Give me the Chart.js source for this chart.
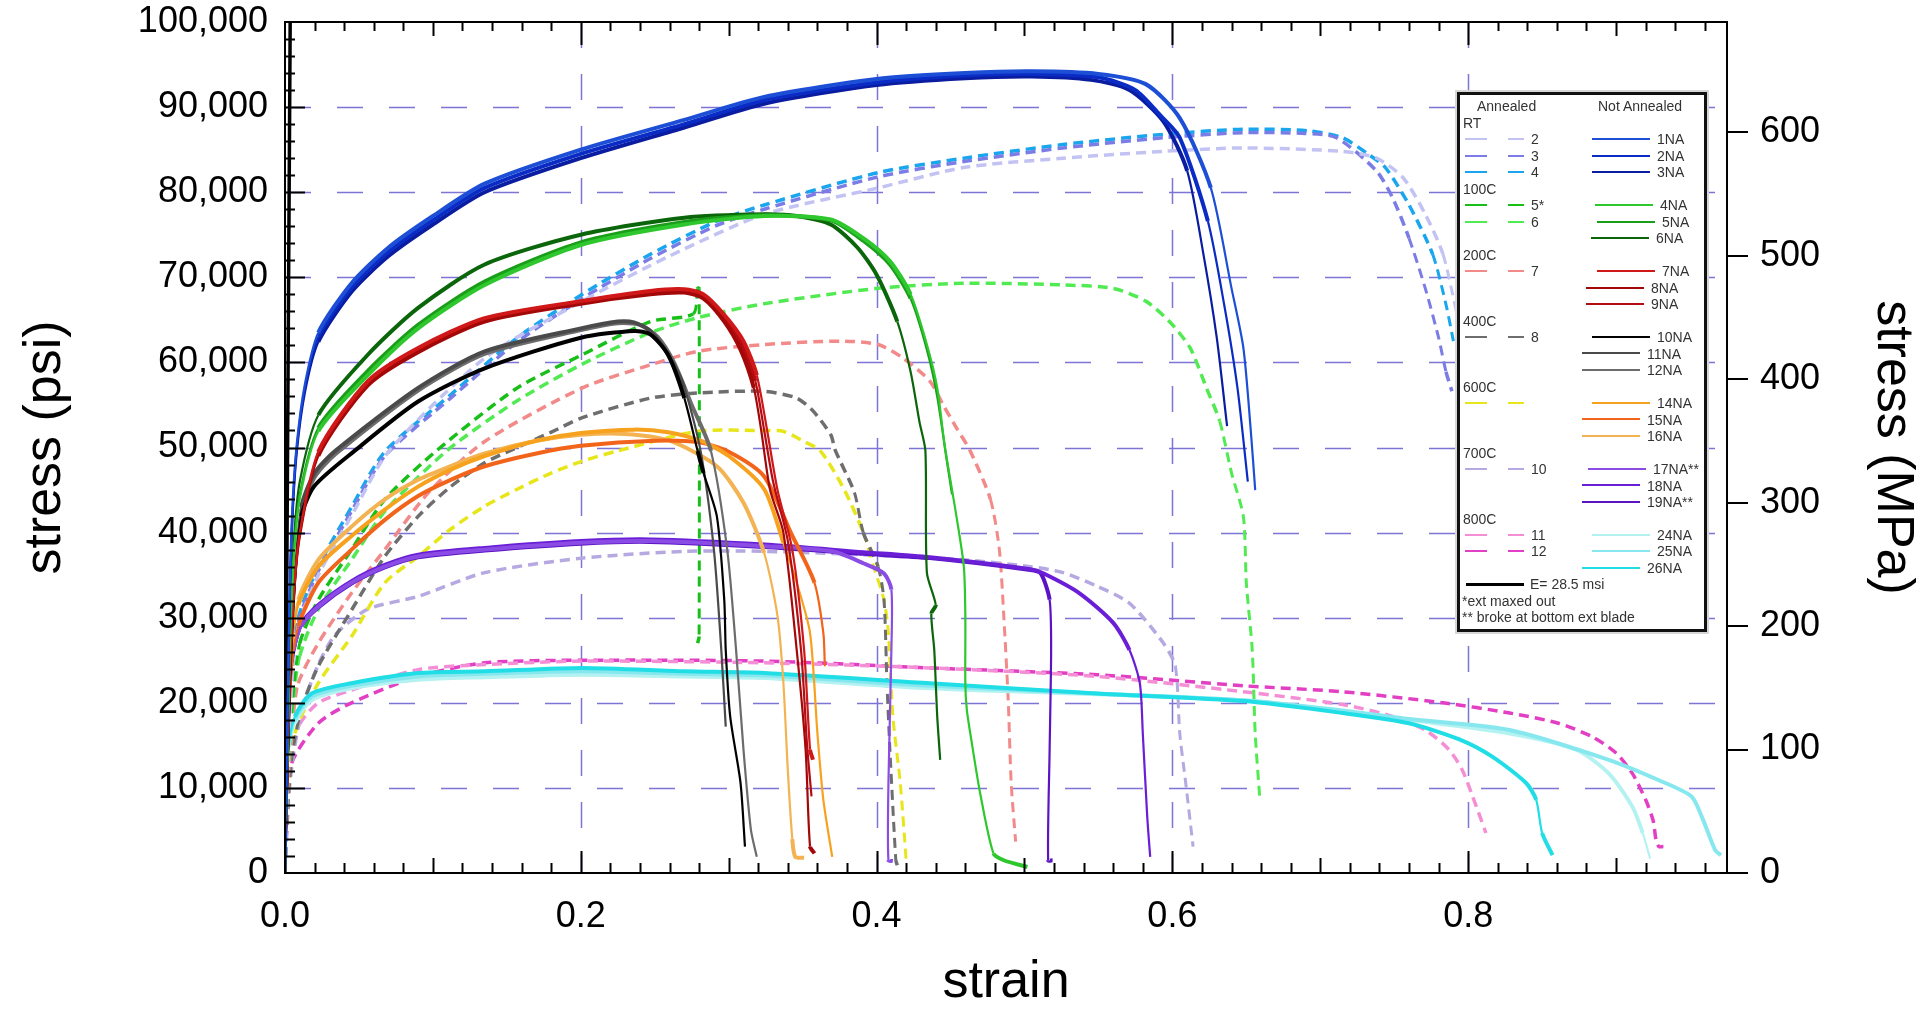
<!DOCTYPE html>
<html>
<head>
<meta charset="utf-8">
<script src="https://cdn.jsdelivr.net/npm/chart.js@4.4.0/dist/chart.umd.min.js"></script>
<style>
html, body { margin: 0; padding: 0; background: #fff; }
#wrap { position: relative; width: 1920px; height: 1009px; }
#c { display: block; }
#legend { position: absolute; left: 0; top: 0; width: 1920px; height: 1009px; pointer-events: none;
  font-family: "Liberation Sans", Arial, sans-serif; font-size: 14px; color: #333; }
.box { position: absolute; left: 1457px; top: 92px; width: 250px; height: 540px; box-sizing: border-box;
  border: 3px solid #111; background: #fff; box-shadow: 0 0 0 2px #d6d6d6; }
.t { position: absolute; line-height: 16px; white-space: nowrap; }
.ln { position: absolute; height: 0; }
</style>
</head>
<body>
<div id="wrap">
  <canvas id="c" width="1920" height="1009"></canvas>
  <div id="legend"><div class="box"></div></div>
</div>
<script>
// [strain, stress psi]
// annealed (dashed)
const a2 = [[0,0],[0.002,11500],[0.005,23000],[0.009,29000],[0.0225,35000],[0.045,42000],[0.07,49500],[0.135,60500],[0.201,67200],[0.26,72500],[0.324,77400],[0.401,80500],[0.459,82900],[0.526,84000],[0.594,84800],[0.648,85200],[0.715,84800],[0.738,84000],[0.756,81700],[0.771,77400],[0.783,72700],[0.792,66000]];
const a3 = [[0,0],[0.002,11800],[0.005,23500],[0.009,29500],[0.0225,35500],[0.045,42500],[0.0675,49000],[0.112,55800],[0.157,62400],[0.201,67500],[0.247,72200],[0.292,76100],[0.324,78000],[0.401,81800],[0.459,83600],[0.526,85200],[0.594,86400],[0.648,87000],[0.69,86900],[0.711,86400],[0.738,82500],[0.749,79300],[0.76,74600],[0.771,68700],[0.78,62900],[0.785,58900],[0.789,56600]];
const a4 = [[0,0],[0.002,12000],[0.005,24000],[0.009,30000],[0.0225,36000],[0.045,43000],[0.0675,49500],[0.112,56200],[0.157,62900],[0.201,68000],[0.247,72700],[0.292,76600],[0.324,78500],[0.401,82300],[0.459,84000],[0.526,85600],[0.594,86800],[0.648,87400],[0.693,87200],[0.715,86400],[0.733,84400],[0.744,82900],[0.76,78500],[0.776,72700],[0.785,66800],[0.79,62500]];
const a5 = [[0,0],[0.002,12000],[0.005,20000],[0.01,27000],[0.0225,32100],[0.045,38000],[0.0675,43900],[0.103,49700],[0.157,57000],[0.201,60900],[0.247,64800],[0.276,65700],[0.279,68700],[0.28,68700],[0.28,27800],[0.279,27000]];
const a6 = [[0,0],[0.002,11000],[0.005,19000],[0.01,25500],[0.0225,31000],[0.045,36800],[0.0675,42500],[0.11,49700],[0.157,55500],[0.201,59800],[0.247,63500],[0.28,65300],[0.324,66900],[0.401,68700],[0.459,69300],[0.526,69100],[0.56,68700],[0.582,67200],[0.598,64800],[0.612,61700],[0.623,57000],[0.632,53100],[0.64,47000],[0.648,41900],[0.65,34100],[0.654,26200],[0.656,16400],[0.659,9000]];
const a7 = [[0,0],[0.002,10000],[0.005,17000],[0.009,22300],[0.0225,27000],[0.045,32900],[0.0675,38000],[0.097,44700],[0.135,50700],[0.201,57000],[0.247,59700],[0.279,61300],[0.324,62100],[0.376,62500],[0.401,62100],[0.418,60500],[0.436,57800],[0.445,55000],[0.454,52300],[0.463,49700],[0.477,43900],[0.483,38000],[0.486,30200],[0.489,20300],[0.491,10600],[0.494,3700]];
const a8 = [[0,0],[0.002,8000],[0.005,14000],[0.011,19200],[0.0225,24300],[0.045,30900],[0.0675,37200],[0.09,41900],[0.112,45400],[0.135,48200],[0.153,49700],[0.18,51800],[0.201,53500],[0.247,55800],[0.279,56400],[0.324,56600],[0.346,55800],[0.357,54300],[0.369,51500],[0.372,49700],[0.385,44700],[0.391,40000],[0.401,36000],[0.405,32100],[0.407,22300],[0.409,14500],[0.413,1500],[0.414,900]];
const a600 = [[0,0],[0.002,8000],[0.0067,16400],[0.0225,22300],[0.045,27800],[0.0675,34100],[0.09,37200],[0.112,40400],[0.135,43100],[0.157,45100],[0.18,47000],[0.201,48400],[0.225,49600],[0.279,51900],[0.324,52000],[0.337,51900],[0.351,50700],[0.362,49600],[0.378,45100],[0.391,40000],[0.398,36000],[0.405,32100],[0.408,28200],[0.411,18400],[0.416,10600],[0.42,1500]];
const a10 = [[0,0],[0.002,8000],[0.006,14000],[0.012,19500],[0.0225,24500],[0.034,28000],[0.056,31000],[0.09,32500],[0.135,35300],[0.201,37000],[0.27,37800],[0.324,37800],[0.391,37400],[0.459,36800],[0.504,36000],[0.526,35300],[0.549,33700],[0.571,31700],[0.594,27000],[0.602,24300],[0.605,16400],[0.609,10600],[0.614,3100]];
const a11 = [[0,0],[0.002,9000],[0.005,14000],[0.01,17500],[0.0225,20000],[0.045,21500],[0.09,23900],[0.135,24500],[0.201,24900],[0.324,24700],[0.436,24100],[0.549,23100],[0.648,21300],[0.715,19800],[0.749,18400],[0.771,16800],[0.787,14500],[0.796,12100],[0.803,9000],[0.812,4700]];
const a12 = [[0,0],[0.002,7000],[0.0045,12900],[0.0225,17600],[0.045,20000],[0.09,23100],[0.135,24700],[0.201,25000],[0.324,24900],[0.436,24100],[0.549,23300],[0.648,22000],[0.715,21300],[0.783,20000],[0.828,18800],[0.861,17600],[0.884,16000],[0.9,14100],[0.911,11700],[0.92,8600],[0.925,6200],[0.927,3900],[0.929,3100],[0.932,3100]];
// not annealed (solid)
const na1 = [[0,0],[0.003,32000],[0.005,43000],[0.008,50500],[0.0135,57500],[0.0225,63500],[0.045,69300],[0.07,73500],[0.1,77200],[0.135,81000],[0.2,85000],[0.27,88500],[0.324,91200],[0.4,93300],[0.46,94000],[0.505,94200],[0.55,93900],[0.582,92700],[0.605,88700],[0.626,80500],[0.64,68700],[0.648,61700],[0.653,52000],[0.656,45000]];
const na2 = [[0,0],[0.003,31000],[0.005,42000],[0.008,50000],[0.0135,57000],[0.0225,63000],[0.045,68800],[0.07,73000],[0.1,76700],[0.135,80500],[0.2,84500],[0.27,88000],[0.324,90800],[0.4,92900],[0.46,93700],[0.505,93900],[0.55,93500],[0.575,92000],[0.592,89000],[0.605,86400],[0.624,76600],[0.635,66800],[0.644,57000],[0.651,46000]];
const na3 = [[0,0],[0.003,30500],[0.005,41500],[0.008,49500],[0.0135,56500],[0.0225,62400],[0.045,68300],[0.07,72500],[0.1,76200],[0.135,80000],[0.2,84000],[0.27,87600],[0.324,90400],[0.4,92600],[0.46,93400],[0.505,93600],[0.545,93200],[0.571,92000],[0.594,88300],[0.61,82500],[0.621,72700],[0.63,62900],[0.637,52500]];
const na4 = [[0,0],[0.003,25000],[0.006,37000],[0.01,44000],[0.0225,51900],[0.056,58500],[0.09,64000],[0.135,69100],[0.2,73800],[0.27,76200],[0.324,77200],[0.369,76800],[0.391,74600],[0.409,71900],[0.423,68000],[0.434,62100],[0.441,57000],[0.446,50300],[0.454,41900],[0.459,36000],[0.46,30200],[0.46,22300],[0.461,19200],[0.464,15700],[0.47,9400],[0.479,2300],[0.486,1500],[0.502,700]];
const na5 = [[0,0],[0.003,25500],[0.006,37500],[0.01,44500],[0.0225,52300],[0.056,59000],[0.09,64400],[0.135,69500],[0.2,74100],[0.27,76500],[0.324,77300],[0.369,76700],[0.391,74300],[0.409,71500],[0.423,67500],[0.434,61500],[0.441,56000],[0.447,49000],[0.451,44500]];
const na6 = [[0,0],[0.003,27000],[0.006,39000],[0.01,46000],[0.0225,53800],[0.056,60900],[0.09,66400],[0.135,71500],[0.2,75000],[0.27,77000],[0.324,77400],[0.346,77200],[0.369,76200],[0.387,73500],[0.4,70300],[0.414,64800],[0.423,58900],[0.429,53000],[0.433,49600],[0.434,35300],[0.44,31500],[0.437,30500],[0.439,26200],[0.441,18400],[0.443,13300]];
const na7 = [[0,0],[0.003,22000],[0.006,33000],[0.01,40000],[0.0225,49500],[0.056,57800],[0.09,61700],[0.135,65200],[0.2,67200],[0.247,68400],[0.27,68600],[0.283,68000],[0.297,65600],[0.31,62500],[0.319,58500],[0.326,52000],[0.333,45000],[0.343,38000],[0.351,26200],[0.355,14500],[0.357,13300]];
const na8 = [[0,0],[0.003,21500],[0.006,32500],[0.01,39500],[0.0225,49000],[0.056,57300],[0.09,61200],[0.135,64800],[0.2,66900],[0.247,68000],[0.27,68200],[0.283,67500],[0.297,64800],[0.308,61500],[0.317,57000],[0.322,52000],[0.328,45000],[0.337,40000],[0.346,26200],[0.352,14500],[0.355,3100],[0.358,2300]];
const na9 = [[0,0],[0.003,21800],[0.006,32800],[0.01,39800],[0.0225,49200],[0.056,57500],[0.09,61400],[0.135,65000],[0.2,67000],[0.247,68200],[0.27,68400],[0.283,67800],[0.297,65200],[0.309,62000],[0.318,57800],[0.324,52000],[0.33,46000],[0.34,39000],[0.349,26000],[0.353,15000],[0.356,9000]];
const na10 = [[0,0],[0.003,20000],[0.0067,34000],[0.011,41900],[0.02,45500],[0.047,49600],[0.09,55400],[0.135,59300],[0.2,62900],[0.236,63700],[0.247,63300],[0.259,60900],[0.27,55800],[0.279,49600],[0.283,47000],[0.292,41900],[0.297,32100],[0.298,26200],[0.301,18400],[0.308,10600],[0.311,3100]];
const na11 = [[0,0],[0.003,21000],[0.0067,35000],[0.011,43000],[0.02,47000],[0.034,49600],[0.09,57000],[0.135,61300],[0.2,64000],[0.225,64800],[0.236,64700],[0.247,63700],[0.259,60900],[0.27,57000],[0.281,49600],[0.29,38000],[0.295,26200],[0.298,17200]];
const na12 = [[0,0],[0.003,20500],[0.0067,34500],[0.011,42500],[0.02,46500],[0.034,49200],[0.09,56700],[0.135,61000],[0.2,63800],[0.225,64600],[0.24,64400],[0.252,63000],[0.263,60000],[0.275,55000],[0.288,49600],[0.299,38000],[0.305,26200],[0.31,14500],[0.315,5100],[0.319,1900]];
const na14 = [[0,0],[0.002,15000],[0.0045,26000],[0.009,31500],[0.0225,36000],[0.045,39600],[0.0675,42700],[0.09,45400],[0.112,47400],[0.135,49000],[0.17,50800],[0.2,51700],[0.236,52100],[0.259,51800],[0.281,50800],[0.3,49000],[0.324,45100],[0.337,38800],[0.346,34100],[0.355,28200],[0.36,16400],[0.364,8600],[0.37,1900]];
const na15 = [[0,0],[0.002,14000],[0.0045,24000],[0.009,29000],[0.0225,34100],[0.045,38000],[0.0675,41500],[0.09,44300],[0.112,46200],[0.135,47800],[0.17,49300],[0.2,50200],[0.25,50800],[0.28,50600],[0.3,49500],[0.324,46600],[0.342,40000],[0.358,34100],[0.364,28200],[0.365,24300]];
const na16 = [[0,0],[0.002,16000],[0.0045,26500],[0.009,32100],[0.0225,36800],[0.045,40700],[0.0675,43900],[0.09,46200],[0.112,47800],[0.135,49300],[0.17,50800],[0.2,51500],[0.23,51600],[0.26,50800],[0.292,47800],[0.31,43500],[0.324,37600],[0.333,30200],[0.337,22300],[0.34,12000],[0.343,4000],[0.345,1900],[0.351,1800]];
const na17 = [[0,0],[0.002,14000],[0.0045,24300],[0.011,29000],[0.0225,31300],[0.045,34100],[0.0675,36000],[0.09,37200],[0.135,38000],[0.2,38800],[0.247,39000],[0.324,38400],[0.37,37800],[0.391,36400],[0.405,35200],[0.41,33300],[0.41,26200],[0.408,10500],[0.408,1500],[0.411,1400]];
const na18 = [[0,0],[0.002,14500],[0.0045,24500],[0.011,29200],[0.0225,31500],[0.045,34300],[0.0675,36200],[0.09,37400],[0.135,38200],[0.2,39000],[0.247,39200],[0.324,38600],[0.391,37700],[0.436,37100],[0.504,35700],[0.513,35200],[0.537,32900],[0.56,29400],[0.571,26200],[0.578,22300],[0.58,16400],[0.583,6600],[0.585,1900]];
const na19 = [[0,0],[0.002,14200],[0.0045,24200],[0.011,29000],[0.0225,31200],[0.045,34000],[0.0675,35900],[0.09,37100],[0.135,37900],[0.2,38700],[0.247,38900],[0.324,38300],[0.391,37500],[0.436,37000],[0.504,35600],[0.511,35200],[0.517,32100],[0.518,26200],[0.517,14500],[0.516,1500],[0.519,1500]];
const na24 = [[0,0],[0.001,8500],[0.0022,13800],[0.0067,17600],[0.018,20300],[0.045,21700],[0.09,22700],[0.135,23000],[0.201,23300],[0.27,23100],[0.324,22900],[0.436,21700],[0.549,21000],[0.648,20300],[0.715,19000],[0.76,18000],[0.828,16400],[0.873,14500],[0.895,11700],[0.911,7800],[0.918,4700],[0.923,1700]];
const na25 = [[0,0],[0.001,8800],[0.0022,14200],[0.0067,18000],[0.018,20700],[0.045,22000],[0.09,23100],[0.135,23400],[0.201,23700],[0.27,23400],[0.324,23200],[0.436,22000],[0.549,21100],[0.648,20300],[0.715,19100],[0.76,18100],[0.828,16800],[0.895,13300],[0.929,10900],[0.951,9000],[0.958,6600],[0.967,2700],[0.971,2100]];
const na26 = [[0,0],[0.001,9000],[0.0022,14500],[0.0067,18400],[0.018,21100],[0.045,22300],[0.09,23500],[0.135,23700],[0.201,24100],[0.27,23700],[0.324,23500],[0.436,22300],[0.549,21100],[0.648,20200],[0.715,18800],[0.76,17600],[0.794,15700],[0.816,13700],[0.839,10600],[0.846,8600],[0.85,4700],[0.857,2100]];
// modulus line E = 28.5 msi
const modulusLine = [[0,0],[0.0035,100000]];

const xTickLabels = [0, 0.2, 0.4, 0.6, 0.8];
const psiTicks = [0, 10000, 20000, 30000, 40000, 50000, 60000, 70000, 80000, 90000, 100000];
const mpaTicks = [0, 100, 200, 300, 400, 500, 600];
const PSI_TO_MPA = 0.00689476;

const series = [
  { label: '1NA', data: na1, color: '#1c4fd6' },
  { label: '2NA', data: na2, color: '#0a2cc4' },
  { label: '3NA', data: na3, color: '#0a1ca0' },
  { label: '4NA', data: na4, color: '#2ec82e' },
  { label: '5NA', data: na5, color: '#1a9e1a' },
  { label: '6NA', data: na6, color: '#0b660b' },
  { label: '7NA', data: na7, color: '#d01818' },
  { label: '8NA', data: na8, color: '#a30808' },
  { label: '9NA', data: na9, color: '#b40c12' },
  { label: '10NA', data: na10, color: '#000000' },
  { label: '11NA', data: na11, color: '#4a4a4a' },
  { label: '12NA', data: na12, color: '#6c6c6c' },
  { label: '14NA', data: na14, color: '#f7a21f' },
  { label: '15NA', data: na15, color: '#f2641a' },
  { label: '16NA', data: na16, color: '#f4b352' },
  { label: '17NA**', data: na17, color: '#8b4ce6' },
  { label: '18NA', data: na18, color: '#6a1fd6' },
  { label: '19NA**', data: na19, color: '#5a14c4' },
  { label: '26NA', data: na26, color: '#20dde6' },
  { label: '25NA', data: na25, color: '#86e8ee' },
  { label: '24NA', data: na24, color: '#b4f2f2' },
  { label: '2', data: a2, color: '#c3c3f3', ann: true },
  { label: '3', data: a3, color: '#7c7ce6', ann: true },
  { label: '4', data: a4, color: '#1aa6ee', ann: true },
  { label: '5*', data: a5, color: '#19bf19', ann: true },
  { label: '6', data: a6, color: '#52ea52', ann: true },
  { label: '7', data: a7, color: '#f28a8a', ann: true },
  { label: '8', data: a8, color: '#6e6e6e', ann: true },
  { label: '600C', data: a600, color: '#e6e61a', ann: true },
  { label: '10', data: a10, color: '#b6a8e0', ann: true },
  { label: '11', data: a11, color: '#f48fd6', ann: true },
  { label: '12', data: a12, color: '#e23fc4', ann: true },
  { label: 'E= 28.5 msi', data: modulusLine, color: '#000000', width: 3.5 }
];

// thick on the noisy plateaus, thinner on the steep failure drops
function segWidth(thick, thin) {
  return ctx => {
    const dx = Math.abs(ctx.p1.x - ctx.p0.x), dy = Math.abs(ctx.p1.y - ctx.p0.y);
    return dy > 3 * dx && dy > 25 ? thin : thick;
  };
}

const datasets = series.map(s => ({
  label: s.label,
  data: s.data.map(p => ({ x: p[0], y: p[1] })),
  borderColor: s.color,
  borderWidth: s.width || 3.5,
  borderDash: s.ann ? [10, 6] : [],
  segment: s.width ? {} : { borderWidth: s.ann ? segWidth(3.5, 3) : segWidth(4, 2.2) },
  pointRadius: 0,
  tension: 0.25,
  fill: false,
  yAxisID: 'y'
}));

// gridlines, inner ticks and frame
const axisDeco = {
  id: 'axisDeco',
  beforeDatasetsDraw(chart) {
    const { ctx, chartArea: a, scales } = chart;
    ctx.save();
    ctx.strokeStyle = '#7c75d6';
    ctx.lineWidth = 1.5;
    ctx.setLineDash([26, 26]);
    [0.2, 0.4, 0.6, 0.8].forEach(v => {
      const px = Math.round(scales.x.getPixelForValue(v)) + 0.5;
      ctx.beginPath(); ctx.moveTo(px, a.top); ctx.lineTo(px, a.bottom); ctx.stroke();
    });
    psiTicks.slice(1, -1).forEach(v => {
      const py = Math.round(scales.y.getPixelForValue(v)) + 0.5;
      ctx.beginPath(); ctx.moveTo(a.left, py); ctx.lineTo(a.right, py); ctx.stroke();
    });
    ctx.restore();
  },
  afterDraw(chart) {
    const { ctx, chartArea: a, scales } = chart;
    ctx.save();
    ctx.strokeStyle = '#000';
    ctx.lineWidth = 2;
    ctx.setLineDash([]);
    for (let i = 1; i <= 48; i++) {
      const px = Math.round(scales.x.getPixelForValue(i * 0.02)) + 0.5;
      const lb = i % 10 === 0 ? 22 : (i % 5 === 0 ? 15 : 10);
      const lt = i % 10 === 0 ? 23 : (i % 5 === 0 ? 14 : 9);
      ctx.beginPath();
      ctx.moveTo(px, a.bottom); ctx.lineTo(px, a.bottom - lb);
      ctx.moveTo(px, a.top); ctx.lineTo(px, a.top + lt);
      ctx.stroke();
    }
    for (let v = 2000; v < 100000; v += 2000) {
      const py = Math.round(scales.y.getPixelForValue(v)) + 0.5;
      const len = v % 10000 === 0 ? 20 : 10;
      ctx.beginPath(); ctx.moveTo(a.left, py); ctx.lineTo(a.left + len, py); ctx.stroke();
    }
    ctx.strokeRect(a.left, a.top, a.right - a.left, a.bottom - a.top);
    ctx.restore();
  }
};

const FONT = '"Liberation Sans", Arial, sans-serif';

// fixed axis boxes so the plot area sits where the original's does
function fixBox(w, h) {
  return s => {
    if (w) s.width = w;
    if (h) s.height = h;
    s.paddingTop = 0; s.paddingBottom = 0; s.paddingLeft = 0; s.paddingRight = 0;
  };
}

new Chart(document.getElementById('c'), {
  type: 'line',
  data: { datasets },
  options: {
    responsive: false,
    animation: false,
    layout: { padding: { top: 22, left: 0, right: 0, bottom: 0 } },
    plugins: { legend: { display: false }, tooltip: { enabled: false } },
    scales: {
      x: {
        type: 'linear', min: 0, max: 0.975,
        afterFit: fixBox(0, 136),
        grid: { display: false, drawTicks: false },
        border: { display: false },
        ticks: {
          stepSize: 0.2, includeBounds: false, padding: 22, color: '#000',
          font: { family: FONT, size: 36 }, maxRotation: 0,
          callback: v => xTickLabels.some(t => Math.abs(t - v) < 1e-6) ? v.toFixed(1) : ''
        },
        title: { display: true, text: 'strain', color: '#000', padding: { top: 0, bottom: 0 },
          font: { family: FONT, size: 52, lineHeight: 1 } }
      },
      y: {
        type: 'linear', position: 'left', min: 0, max: 100000,
        afterFit: fixBox(285, 0),
        grid: { display: false, drawTicks: false },
        border: { display: false },
        ticks: {
          stepSize: 10000, padding: 17, color: '#000', font: { family: FONT, size: 36 },
          callback: v => psiTicks.includes(v) ? v.toLocaleString('en-US') : ''
        },
        title: { display: true, text: 'stress (psi)', color: '#000', padding: { top: 20, bottom: 0 },
          font: { family: FONT, size: 52, lineHeight: 1 } }
      },
      y2: {
        type: 'linear', position: 'right', min: 0, max: 100000 * PSI_TO_MPA,
        afterFit: fixBox(193, 0),
        grid: { display: true, drawOnChartArea: false, drawTicks: true, tickLength: 21, color: '#000', lineWidth: 2 },
        border: { display: false },
        ticks: {
          stepSize: 100, includeBounds: false, padding: 12, color: '#000', font: { family: FONT, size: 36 },
          callback: v => mpaTicks.includes(v) ? String(v) : ''
        },
        title: { display: true, text: 'stress (MPa)', color: '#000', padding: { top: 2, bottom: 0 },
          font: { family: FONT, size: 52, lineHeight: 1 } }
      }
    }
  },
  plugins: [axisDeco]
});

// legend box
const legendRows = [
  { sec: 'RT' },
  { a: '2', n: '1NA', nx: 1592 },
  { a: '3', n: '2NA', nx: 1592 },
  { a: '4', n: '3NA', nx: 1592 },
  { sec: '100C' },
  { a: '5*', n: '4NA', nx: 1595 },
  { a: '6', n: '5NA', nx: 1597 },
  { n: '6NA', nx: 1591 },
  { sec: '200C' },
  { a: '7', n: '7NA', nx: 1597 },
  { n: '8NA', nx: 1586 },
  { n: '9NA', nx: 1586 },
  { sec: '400C' },
  { a: '8', n: '10NA', nx: 1592 },
  { n: '11NA', nx: 1582 },
  { n: '12NA', nx: 1582 },
  { sec: '600C' },
  { a: '600C', atext: '', n: '14NA', nx: 1592 },
  { n: '15NA', nx: 1582 },
  { n: '16NA', nx: 1582 },
  { sec: '700C' },
  { a: '10', n: '17NA**', nx: 1588 },
  { n: '18NA', nx: 1582 },
  { n: '19NA**', nx: 1582 },
  { sec: '800C' },
  { a: '11', n: '24NA', nx: 1592 },
  { a: '12', n: '25NA', nx: 1592 },
  { n: '26NA', nx: 1582 },
  { e: 'E= 28.5 msi' },
  { note: '*ext maxed out' },
  { note: '** broke at bottom ext blade' }
];

const legend = document.getElementById('legend');
function colorOf(label) { return series.find(s => s.label === label).color; }
function addText(txt, x, y) {
  const d = document.createElement('div');
  d.className = 't'; d.textContent = txt;
  d.style.left = x + 'px'; d.style.top = (y - 8) + 'px';
  legend.appendChild(d);
}
function addLine(x1, x2, y, color, w) {
  const d = document.createElement('div');
  d.className = 'ln';
  d.style.left = x1 + 'px'; d.style.width = (x2 - x1) + 'px';
  d.style.top = (y - w / 2) + 'px';
  d.style.borderTop = w + 'px solid ' + color;
  legend.appendChild(d);
}
addText('Annealed', 1477, 106);
addText('Not Annealed', 1598, 106);
legendRows.forEach((r, i) => {
  const y = 123 + i * 16.48;
  if (r.sec) addText(r.sec, 1463, y);
  if (r.note) addText(r.note, 1462, y);
  if (r.e) { addLine(1466, 1524, y, '#000', 3.5); addText(r.e, 1530, y); }
  if (r.a) {
    const c = colorOf(r.a);
    addLine(1465, 1487, y, c, 2.5);
    addLine(1508, 1524, y, c, 2.5);
    const t = r.atext !== undefined ? r.atext : r.a;
    if (t) addText(t, 1531, y);
  }
  if (r.n) {
    addLine(r.nx, r.nx + 58, y, colorOf(r.n), 2.5);
    addText(r.n, r.nx + 65, y);
  }
});
</script>
</body>
</html>
